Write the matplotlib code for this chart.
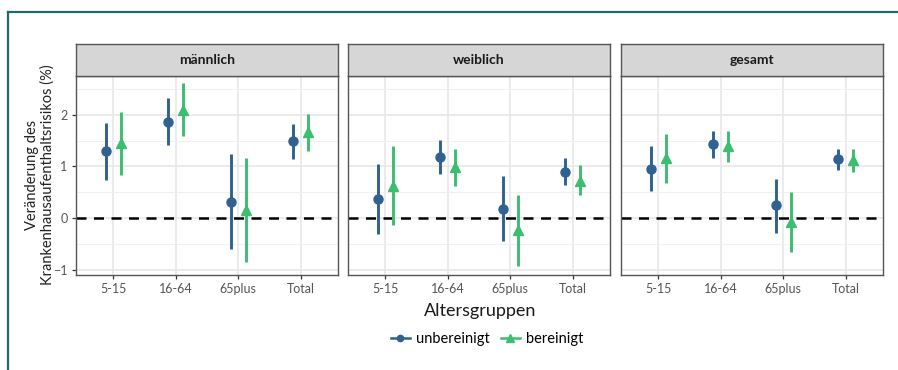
import matplotlib.pyplot as plt
from matplotlib.lines import Line2D
import numpy as np

plt.rcParams['font.family'] = ['Lato', 'DejaVu Sans']

groups = ['5-15', '16-64', '65plus', 'Total']
panels = ['männlich', 'weiblich', 'gesamt']

# one row per panel, one value per age group
est_unb = [[1.30, 1.86, 0.31, 1.49],
           [0.37, 1.19, 0.18, 0.90],
           [0.95, 1.43, 0.25, 1.14]]
lo_unb = [[0.74, 1.41, -0.59, 1.15],
          [-0.30, 0.86, -0.45, 0.65],
          [0.52, 1.16, -0.28, 0.94]]
hi_unb = [[1.85, 2.32, 1.24, 1.82],
          [1.05, 1.52, 0.81, 1.16],
          [1.39, 1.69, 0.75, 1.34]]

est_ber = [[1.45, 2.10, 0.16, 1.66],
           [0.63, 0.98, -0.23, 0.72],
           [1.16, 1.39, -0.08, 1.13]]
lo_ber = [[0.83, 1.59, -0.85, 1.30],
          [-0.13, 0.63, -0.92, 0.44],
          [0.68, 1.08, -0.65, 0.89]]
hi_ber = [[2.05, 2.61, 1.17, 2.01],
          [1.39, 1.34, 0.45, 1.03],
          [1.63, 1.69, 0.50, 1.34]]

col_unb = '#2f6290'
col_ber = '#3dbd70'

W, H = 898, 370
fig = plt.figure(figsize=(W / 100, H / 100), dpi=100)

# teal frame on the top and left
fig.add_artist(Line2D([8 / W, 8 / W], [0, 1 - 12 / H], transform=fig.transFigure,
                      color='#1d6b6b', lw=1.6))
fig.add_artist(Line2D([8 / W, 1], [1 - 12 / H, 1 - 12 / H], transform=fig.transFigure,
                      color='#1d6b6b', lw=1.6))

lefts = [76, 348, 621]
pw = 262
top, bottom, strip_top = 76, 275, 44
x = np.arange(len(groups))
dodge = 0.12

for i, name in enumerate(panels):
    ax = fig.add_axes([lefts[i] / W, 1 - bottom / H, pw / W, (bottom - top) / H])
    ax.set_xlim(-0.6, 3.6)
    ax.set_ylim(-1.1, 2.75)
    ax.set_yticks([-1, 0, 1, 2])
    ax.set_yticks([-0.5, 0.5, 1.5, 2.5], minor=True)
    ax.set_xticks(x)
    ax.set_xticklabels(groups)
    ax.grid(True, which='major', color='#e6e6e6', lw=1.1, zorder=0)
    ax.grid(True, which='minor', axis='y', color='#f0f0f0', lw=0.7, zorder=0)
    ax.set_axisbelow(True)
    ax.tick_params(axis='both', which='major', length=3, width=0.9, color='#333333',
                   labelsize=9, labelcolor='#555555', pad=3)
    ax.tick_params(axis='y', which='minor', length=0)
    if i > 0:
        ax.tick_params(axis='y', left=False, labelleft=False)
    for s in ax.spines.values():
        s.set_color('#555555')
        s.set_linewidth(1.0)

    ax.axhline(0, color='black', lw=1.8, ls=(0, (4, 3)), zorder=2)

    ax.vlines(x - dodge, lo_unb[i], hi_unb[i], color=col_unb, lw=2.1, zorder=3)
    ax.plot(x - dodge, est_unb[i], 'o', color=col_unb, ms=6.5, zorder=4)
    ax.vlines(x + dodge, lo_ber[i], hi_ber[i], color=col_ber, lw=2.1, zorder=3)
    ax.plot(x + dodge, est_ber[i], '^', color=col_ber, ms=7.5, zorder=4)

    # facet strip
    sx = fig.add_axes([lefts[i] / W, 1 - top / H, pw / W, (top - strip_top) / H])
    sx.set_facecolor('#d6d6d6')
    sx.set_xticks([])
    sx.set_yticks([])
    for s in sx.spines.values():
        s.set_color('#555555')
        s.set_linewidth(1.0)
    sx.text(0.5, 0.5, name, ha='center', va='center', fontsize=10,
            fontweight='bold', color='#1a1a1a', transform=sx.transAxes)

fig.text(40 / W, 1 - 175 / H, 'Veränderung des\nKrankenhausaufenthaltsrisikos (%)',
         rotation=90, ha='center', va='center', fontsize=10.5, color='#222222',
         linespacing=1.1)
fig.text(480 / W, 1 - 311 / H, 'Altersgruppen', ha='center', va='center',
         fontsize=13, color='#1a1a1a')

handles = [Line2D([], [], color=col_unb, marker='o', lw=1.8, ms=4.5),
           Line2D([], [], color=col_ber, marker='^', lw=1.8, ms=5.5)]
fig.legend(handles, ['unbereinigt', 'bereinigt'], loc='center',
           bbox_to_anchor=(487 / W, 1 - 339 / H), ncol=2, frameon=False,
           fontsize=10.5, handlelength=1.3, handletextpad=0.4, columnspacing=0.8)

fig.savefig('out.png', dpi=100)
